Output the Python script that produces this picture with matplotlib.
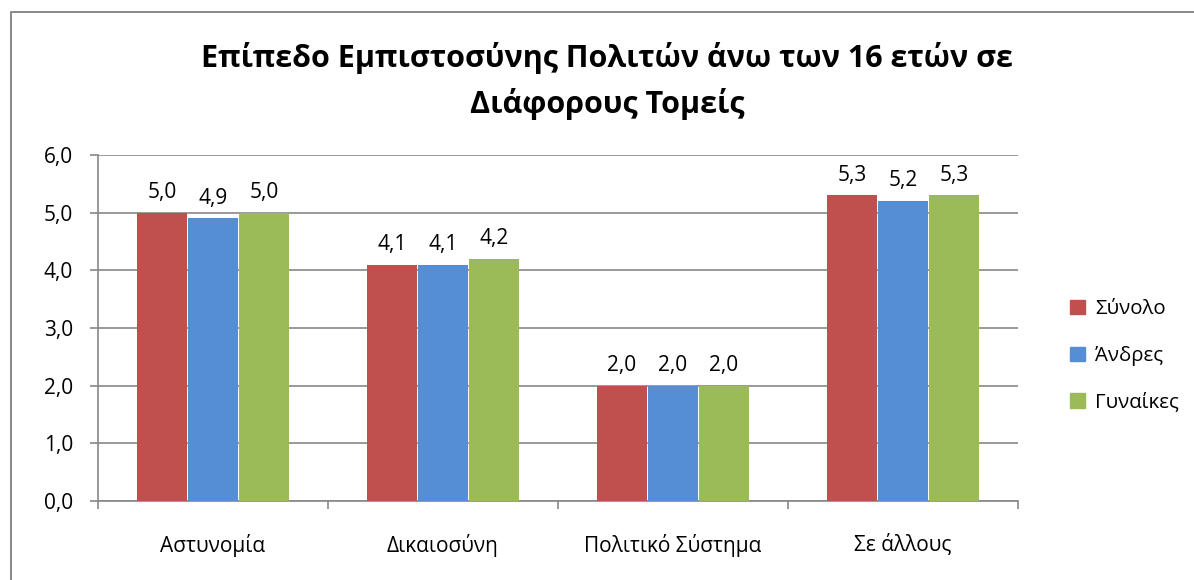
import matplotlib
matplotlib.use("Agg")
import matplotlib.pyplot as plt
import numpy as np
from matplotlib.patches import Rectangle
from matplotlib.lines import Line2D

categories = ["Αστυνομία", "Δικαιοσύνη", "Πολιτικό Σύστημα", "Σε άλλους"]
series_names = ["Σύνολο", "Άνδρες", "Γυναίκες"]
synolo = [5.0, 4.1, 2.0, 5.3]
andres = [4.9, 4.1, 2.0, 5.2]
gynaikes = [5.0, 4.2, 2.0, 5.3]
colors = ["#C0504D", "#558ED5", "#9BBB59"]
title = "Επίπεδο Εμπιστοσύνης Πολιτών άνω των 16 ετών σε\nΔιάφορους Τομείς"

plt.rcParams['font.family'] = ['Open Sans', 'DejaVu Sans']

fig = plt.figure(figsize=(11.94, 5.80), dpi=100)
W, H = 1194, 580
ax = fig.add_axes([98 / W, 1 - 501 / H, (1018 - 98) / W, (501 - 155) / H])

# figure border (top and left edges visible)
fig.lines.append(Line2D([10.5 / W, 10.5 / W, 1.0], [0.0, 1 - 11.5 / H, 1 - 11.5 / H],
                        transform=fig.transFigure, color="#888888", linewidth=1.4))

fs = 15
x = np.arange(len(categories))
bw = 0.222
data = [synolo, andres, gynaikes]
for i, (vals, c, name) in enumerate(zip(data, colors, series_names)):
    pos = x + (i - 1) * bw
    bars = ax.bar(pos, vals, width=bw * 0.985, color=c, label=name, zorder=3)
    for b, v in zip(bars, vals):
        ax.text(b.get_x() + b.get_width() / 2, v + 0.17, f"{v:.1f}".replace(".", ","),
                ha="center", va="bottom", fontsize=fs, color="black")

ax.set_xlim(-0.5, len(categories) - 0.5)
ax.set_ylim(0, 6)
ax.set_yticks(np.arange(0, 7, 1))
ax.set_yticklabels([f"{v:.1f}".replace(".", ",") for v in np.arange(0, 7, 1)], fontsize=fs)
ax.yaxis.grid(True, color="#888888", linewidth=1.2, zorder=0)
ax.set_xticks(x)
ax.set_xticklabels(categories, fontsize=fs)
ax.tick_params(axis="x", length=0, pad=24)
ax.set_xticks(np.arange(-0.5, len(categories) + 0.5, 1), minor=True)
ax.tick_params(axis="x", which="minor", length=6, color="#888888", width=1.2)
ax.tick_params(axis="y", length=6, color="#888888", width=1.2, pad=12)
for s in ["top", "right"]:
    ax.spines[s].set_visible(False)
for s in ["left", "bottom"]:
    ax.spines[s].set_color("#888888")
    ax.spines[s].set_linewidth(1.2)

fig.text(607 / W, 1 - 81 / H, title, ha="center", va="center", fontsize=22, fontweight="bold",
         linespacing=1.55)

handles = [Rectangle((0, 0), 1, 1, color=c) for c in colors]
fig.legend(handles, series_names, loc="center left", bbox_to_anchor=(1052 / W, 1 - 356 / H),
           frameon=False, fontsize=14.7, handlelength=0.7, handleheight=0.7, labelspacing=1.3,
           handletextpad=0.5)

fig.savefig("out.png", dpi=100)
